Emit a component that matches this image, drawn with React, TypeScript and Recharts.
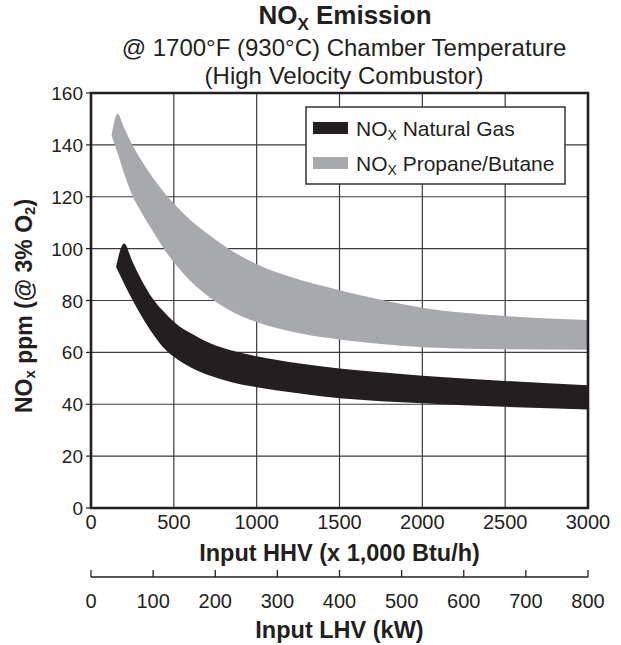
import { ComposedChart, Area, XAxis, YAxis, CartesianGrid, ReferenceArea } from 'recharts';

const FONT = '"Liberation Sans", Arial, Helvetica, sans-serif';
const INK = '#231f20';
const GREY = '#a7a9ac';

const hhvTicks = [0, 500, 1000, 1500, 2000, 2500, 3000];
const kwTicks = [0, 100, 200, 300, 400, 500, 600, 700, 800];
const ppmTicks = [0, 20, 40, 60, 80, 100, 120, 140, 160];

// band edges, x in 1,000 Btu/h (HHV), y in ppm
const hhv = [124, 151, 160, 200, 250, 300, 375, 450, 525, 600, 720, 850, 1000, 1250, 1500, 1750, 2000, 2500, 3000];
const propaneLow = [143.6, null, 137, 129, 120.5, 114.5, 106.5, 99, 92.8, 87.5, 81, 75.8, 71.7, 67.5, 65, 63.2, 62, 61.2, 61];
const propaneHigh = [143.6, null, 152, 146.5, 140, 134.5, 127.2, 121, 115.8, 111, 105, 99.2, 94, 88.2, 84, 80.3, 77.2, 74, 72.5];
const gasLow = [null, 93, null, 86.5, 80.3, 74.5, 67, 61, 57.2, 54.3, 51, 48.5, 46.6, 44.2, 42.3, 41.2, 40.4, 39, 38];
const gasHigh = [null, 93, null, 102, 95, 88.5, 80.5, 75, 70.5, 67.5, 63.5, 60.7, 58.5, 55.8, 53.8, 52.3, 51, 49, 47.3];

const data = hhv.map((x, i) => ({
  hhv: x,
  propane: propaneLow[i] == null ? null : [propaneLow[i], propaneHigh[i]],
  gas: gasLow[i] == null ? null : [gasLow[i], gasHigh[i]],
}));

function HhvTick({ x, y, payload }: any) {
  return (
    <text x={x} y={y + 21} textAnchor="middle" fontSize={20} fill={INK} fontFamily={FONT}>
      {payload.value}
    </text>
  );
}

function KwTick({ x, y, payload }: any) {
  return (
    <g>
      <line x1={x} x2={x} y1={y} y2={y - 7} stroke={INK} strokeWidth={1.3} />
      <text x={x} y={y + 31} textAnchor="middle" fontSize={20} fill={INK} fontFamily={FONT}>
        {payload.value}
      </text>
    </g>
  );
}

function PpmTick({ x, y, payload }: any) {
  return (
    <text x={x} y={y + 7} textAnchor="end" fontSize={19} fill={INK} fontFamily={FONT}>
      {payload.value}
    </text>
  );
}

function AxisTitle({ viewBox, text, dy }: any) {
  return (
    <text
      x={viewBox.x + viewBox.width / 2}
      y={viewBox.y + dy}
      textAnchor="middle"
      fontSize={23.5}
      fontWeight="bold"
      fill={INK}
      fontFamily={FONT}
    >
      {text}
    </text>
  );
}

function PpmTitle({ viewBox }: any) {
  const cx = viewBox.x + 24;
  const cy = viewBox.y + 213;
  return (
    <text
      x={cx}
      y={cy}
      transform={`rotate(-90 ${cx} ${cy})`}
      textAnchor="middle"
      dominantBaseline="central"
      fontSize={23}
      fontWeight="bold"
      fill={INK}
      fontFamily={FONT}
    >
      NO
      <tspan fontSize={15} dy={5}>x</tspan>
      <tspan dy={-5}> ppm (@ 3% O</tspan>
      <tspan fontSize={15} dy={5}>2</tspan>
      <tspan dy={-5}>)</tspan>
    </text>
  );
}

function Overlay() {
  return (
    <svg
      width={621}
      height={645}
      style={{ position: 'absolute', left: 0, top: 0, pointerEvents: 'none' }}
      fontFamily={FONT}
      fill={INK}
    >
      <text x={345} y={24} textAnchor="middle" fontSize={26} fontWeight="bold">
        NO
        <tspan fontSize={17} dy={6}>X</tspan>
        <tspan dy={-6}> Emission</tspan>
      </text>
      <text x={344} y={56} textAnchor="middle" fontSize={24}>
        @ 1700°F (930°C) Chamber Temperature
      </text>
      <text x={344} y={84} textAnchor="middle" fontSize={24}>
        (High Velocity Combustor)
      </text>

      <rect x={306} y={107} width={259} height={77} fill="#fff" stroke="#333" strokeWidth={1.5} />
      <rect x={313} y={122} width={35} height={12} fill={INK} />
      <text x={356} y={136} fontSize={21}>
        NO
        <tspan fontSize={14} dy={4}>X</tspan>
        <tspan dy={-4}> Natural Gas</tspan>
      </text>
      <rect x={313} y={157} width={35} height={12} fill={GREY} />
      <text x={356} y={171} fontSize={21}>
        NO
        <tspan fontSize={14} dy={4}>X</tspan>
        <tspan dy={-4}> Propane/Butane</tspan>
      </text>
    </svg>
  );
}

export default function App() {
  return (
    <div style={{ position: 'absolute', left: 0, top: 0, width: 621, height: 645, background: '#fff' }}>
      <ComposedChart width={621} height={645} data={data} margin={{ top: 93, right: 33, bottom: 0, left: 0 }}>
        <CartesianGrid xAxisId="hhv" stroke="#3a3a3a" strokeWidth={1.2} />
        <XAxis
          xAxisId="hhv"
          dataKey="hhv"
          type="number"
          domain={[0, 3000]}
          ticks={hhvTicks}
          interval={0}
          height={69}
          axisLine={false}
          tickLine={false}
          tickSize={0}
          tickMargin={0}
          tick={<HhvTick />}
          label={<AxisTitle text="Input HHV (x 1,000 Btu/h)" dy={53} />}
        />
        <XAxis
          xAxisId="kw"
          dataKey="hhv"
          type="number"
          domain={[0, 800]}
          ticks={kwTicks}
          interval={0}
          allowDataOverflow
          height={68}
          axisLine={{ stroke: INK, strokeWidth: 1.3 }}
          tickLine={false}
          tickSize={0}
          tickMargin={0}
          tick={<KwTick />}
          label={<AxisTitle text="Input LHV (kW)" dy={61} />}
        />
        <YAxis
          type="number"
          domain={[0, 160]}
          ticks={ppmTicks}
          interval={0}
          width={91}
          axisLine={false}
          tickLine={{ stroke: INK, strokeWidth: 1.2 }}
          tickSize={5}
          tickMargin={3}
          tick={<PpmTick />}
          label={<PpmTitle />}
        />
        <Area
          xAxisId="hhv"
          dataKey="propane"
          type="monotone"
          stroke="none"
          fill={GREY}
          fillOpacity={1}
          connectNulls
          dot={false}
          activeDot={false}
          isAnimationActive={false}
        />
        <Area
          xAxisId="hhv"
          dataKey="gas"
          type="monotone"
          stroke="none"
          fill={INK}
          fillOpacity={1}
          connectNulls
          dot={false}
          activeDot={false}
          isAnimationActive={false}
        />
        <ReferenceArea
          xAxisId="hhv"
          x1={0}
          x2={3000}
          y1={0}
          y2={160}
          fill="none"
          stroke={INK}
          strokeWidth={2.6}
          ifOverflow="visible"
        />
      </ComposedChart>
      <Overlay />
    </div>
  );
}
